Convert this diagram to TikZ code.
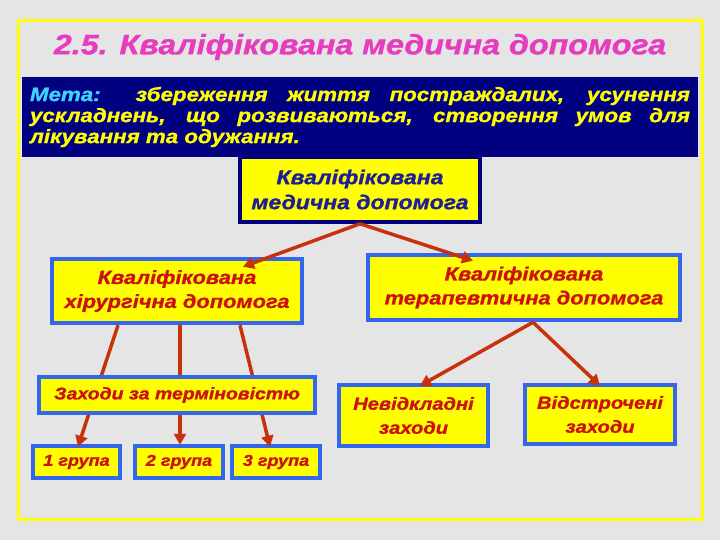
\documentclass[tikz,border=0pt]{standalone}
\usepackage{fontspec}
\setmainfont{Liberation Sans}
\newfontfamily\wfont[FakeStretch=1.15,FakeBold=1.2]{Liberation Sans Bold Italic}
\usetikzlibrary{arrows.meta}
\definecolor{bgc}{RGB}{229,229,229}
\definecolor{frameyel}{RGB}{255,255,0}
\definecolor{navyc}{RGB}{0,0,128}
\definecolor{boxyel}{RGB}{255,255,0}
\definecolor{boxblue}{RGB}{51,102,238}
\definecolor{txtred}{RGB}{204,17,17}
\definecolor{arrc}{RGB}{200,50,10}
\definecolor{titlec}{RGB}{230,60,190}
\definecolor{metac}{RGB}{60,210,255}
\definecolor{topblue}{RGB}{30,30,150}
\tikzset{
  bluebox/.style={draw=boxblue, line width=4.5pt, fill=boxyel, text=txtred,
    font=\fontsize{19}{24}\wfont, align=center, inner sep=0pt},
  conn/.style={draw=arrc, line width=3.5pt, -{Triangle[length=11pt,width=12pt]}}
}
\begin{document}
\begin{tikzpicture}[x=1pt,y=-1pt]
\useasboundingbox (0,0) rectangle (720,540);
\fill[bgc] (0,0) rectangle (720,540);
\draw[frameyel, line width=3pt] (18,21) rectangle (702,519);
\node[text=titlec, font=\fontsize{28}{30}\wfont] (title) at (360,47) {2.5. Кваліфікована медична допомога};
\fill[navyc] (22,77) rectangle (698,157);
\node[text width=660pt, align=justify, inner sep=0pt, text=frameyel,
  font=\fontsize{19.4}{21}\wfont] (goal) at (360,117)
  {\textcolor{metac}{Мета:} збереження життя постраждалих, усунення\linebreak ускладнень, що розвиваються, створення умов для\linebreak лікування та одужання.};
% nodes
\node[draw=navyc, line width=3.5pt, fill=boxyel, text=topblue, align=center, inner sep=0pt,
  font=\fontsize{20}{25}\wfont, minimum width=240pt, minimum height=65pt] (top) at (360,189.5) {Кваліфікована\\медична допомога};
\node[bluebox, minimum width=250pt, minimum height=64pt] (l) at (177,291) {Кваліфікована\\хірургічна допомога};
\node[bluebox, minimum width=312pt, minimum height=65pt] (r) at (524,287.5) {Кваліфікована\\терапевтична допомога};
\node[bluebox, minimum width=87pt, minimum height=32pt, font=\fontsize{15.7}{20}\wfont] (g1) at (76.5,462) {1 група};
\node[bluebox, minimum width=88pt, minimum height=32pt, font=\fontsize{15.7}{20}\wfont] (g2) at (179,462) {2 група};
\node[bluebox, minimum width=88pt, minimum height=32pt, font=\fontsize{15.7}{20}\wfont] (g3) at (276,462) {3 група};
\node[bluebox, minimum width=149pt, minimum height=61pt, font=\fontsize{17.5}{24}\wfont] (n1) at (413.5,415.5) {Невідкладні\\заходи};
\node[bluebox, minimum width=150pt, minimum height=59pt, font=\fontsize{17.5}{24}\wfont] (n2) at (600,414.5) {Відстрочені\\заходи};
% connectors
\draw[conn] (top.south) -- ([xshift=66pt,yshift=-10pt]l.north);
\draw[conn] (top.south) -- ([xshift=-51pt,yshift=-8pt]r.north);
\draw[conn] ([xshift=-59pt]l.south) -- ([xshift=1.5pt,yshift=-3pt]g1.north);
\draw[conn] ([xshift=3pt]l.south) -- ([xshift=1pt,yshift=-1pt]g2.north);
\draw[conn] ([xshift=63pt]l.south) -- ([xshift=-6pt,yshift=-3pt]g3.north);
\draw[conn] ([xshift=9pt]r.south) -- ([xshift=6.5pt,yshift=-3pt]n1.north);
\draw[conn] ([xshift=9pt]r.south) -- ([yshift=-3pt]n2.north);
\node[bluebox, minimum width=276pt, minimum height=36pt, font=\fontsize{16.9}{22}\wfont] (z) at (177,395) {Заходи за терміновістю};
\end{tikzpicture}
\end{document}
